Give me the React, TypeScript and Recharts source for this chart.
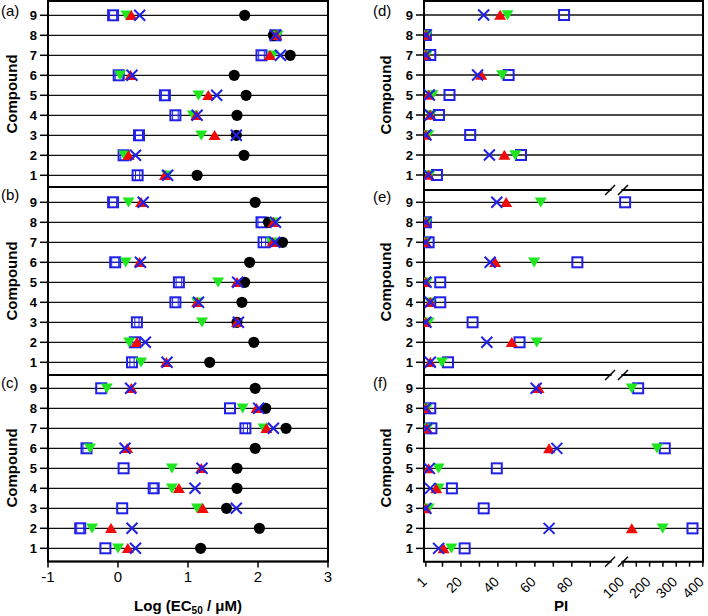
import React from "react";
import {
  ScatterChart,
  Scatter,
  XAxis,
  YAxis,
  CartesianGrid,
  ReferenceArea,
  ErrorBar,
} from "recharts";

const FONT = "'Liberation Sans', Arial, sans-serif";
const RED = "#f00a0a";
const GREEN = "#1fe61f";
const BLUE = "#2020e8";

const compounds = [1, 2, 3, 4, 5, 6, 7, 8, 9];
const ecTicks = [-1, 0, 1, 2, 3];

// Log(EC50/uM), compound 1..9
const aCircle = [1.13, 1.8, 1.69, 1.7, 1.83, 1.66, 2.46, 2.22, 1.81];
const aUp = [0.67, 0.15, 1.38, 1.12, 1.29, 0.18, 2.17, 2.26, 0.19];
const aDown = [0.7, 0.09, 1.19, 1.07, 1.15, 0.03, 2.21, 2.28, 0.12];
const aCross = [0.71, 0.25, 1.69, 1.13, 1.41, 0.2, 2.32, 2.25, 0.31];
const aSquare = [0.28, 0.08, 0.3, 0.82, 0.67, 0.01, 2.05, 2.25, -0.07];
const aSquareErr = [0.03, 0.04, 0.05, 0.04, 0.05, 0.05, 0.04, 0.03, 0.05];

const bCircle = [1.31, 1.94, 1.7, 1.77, 1.81, 1.88, 2.35, 2.15, 1.96];
const bUp = [0.69, 0.27, 1.7, 1.13, 1.7, 0.31, 2.21, 2.22, 0.33];
const bDown = [0.33, 0.16, 1.2, 1.13, 1.43, 0.11, 2.2, 2.24, 0.15];
const bCross = [0.7, 0.39, 1.72, 1.15, 1.71, 0.32, 2.24, 2.25, 0.36];
const bSquare = [0.2, 0.24, 0.27, 0.82, 0.87, -0.04, 2.08, 2.05, -0.07];
const bSquareErr = [0.03, 0.04, 0.03, 0.04, 0.04, 0.05, 0.03, 0.05, 0.05];

const cCircle = [1.18, 2.02, 1.55, 1.7, 1.7, 1.96, 2.4, 2.11, 1.96];
const cUp = [0.14, -0.1, 1.21, 0.87, 1.19, 0.13, 2.12, 1.98, 0.19];
const cDown = [0.0, -0.37, 1.13, 0.77, 0.77, -0.4, 2.08, 1.78, -0.16];
const cCross = [0.25, 0.2, 1.69, 1.1, 1.2, 0.1, 2.22, 2.01, 0.18];
const cSquare = [-0.18, -0.54, 0.06, 0.51, 0.08, -0.45, 1.82, 1.6, -0.24];
const cSquareErr = [0.0, 0.05, 0.0, 0.05, 0.0, 0.05, 0.03, 0.0, 0.0];

// PI, compound 1..9
const dUp = [2.5, 43.5, 1, 3.4, 2.5, 31, 1, 1, 41.2];
const dDown = [3, 49.4, 2.3, 3.6, 4.6, 42.3, 1.5, 1.5, 45.2];
const dCross = [2.5, 35.4, 1, 3.4, 2.9, 29, 1, 1, 32.3];
const dSquare = [7, 52.5, 25, 8.1, 13.8, 45.8, 3.4, 1, 75.8];

const eUp = [3.4, 47.5, 1, 3.4, 1, 38.5, 1, 1, 44.5];
const eDown = [9.7, 61, 2.5, 3.4, 1.5, 59.6, 1, 1.5, 63.2];
const eCross = [3.4, 34, 1, 3.4, 1, 35.8, 1, 1, 39.4];
const eSquare = [13, 51.7, 26.3, 8.8, 8.8, 83, 2.5, 1, 108];

const fUp = [10.6, 133, 1, 6.6, 2.5, 67.7, 1.5, 1, 62];
const fDown = [14.8, 249, 2.5, 7.9, 7.9, 228, 1.8, 1.5, 133];
const fCross = [7.9, 67.7, 1, 3.4, 2.9, 71.9, 1.5, 1, 60.7];
const fSquare = [22, 361, 32.3, 15.1, 39.4, 257, 4, 3.4, 157];

const piTickValues = [1, 10, 20, 30, 40, 50, 60, 70, 80, 90, 100, 150, 200, 250, 300, 350, 400];
const piLabels = [1, 20, 40, 60, 80, 100, 200, 300, 400];

// broken PI axis: 0-95 linear, then 100-400 compressed
const toAxis = (v: number) => (v <= 95 ? v : 107.7 + (v - 100) * 0.1441);
const PI_DOMAIN: [number, number] = [0, 151];

const piLabelMap = new Map(piLabels.map((v) => [toAxis(v).toFixed(3), String(v)]));

const rows = (xs: number[], errs?: number[]) =>
  xs.map((x, i) => ({ x, y: compounds[i], ex: errs ? errs[i] : 0 }));
const piRows = (xs: number[]) => xs.map((v, i) => ({ x: toAxis(v), y: compounds[i], pi: v }));

const Dot = (p: any) => <circle cx={p.cx} cy={p.cy} r={5.6} fill="#000" />;
const Up = (p: any) => (
  <polygon
    points={`${p.cx},${p.cy - 5.2} ${p.cx - 6},${p.cy + 4.8} ${p.cx + 6},${p.cy + 4.8}`}
    fill={RED}
  />
);
const Down = (p: any) => (
  <polygon
    points={`${p.cx},${p.cy + 5.2} ${p.cx - 6},${p.cy - 4.8} ${p.cx + 6},${p.cy - 4.8}`}
    fill={GREEN}
  />
);
const Cross = (p: any) => (
  <path
    d={`M${p.cx - 5.5} ${p.cy - 5.5}L${p.cx + 5.5} ${p.cy + 5.5}M${p.cx - 5.5} ${p.cy + 5.5}L${p.cx + 5.5} ${p.cy - 5.5}`}
    stroke={BLUE}
    strokeWidth={2}
    fill="none"
  />
);
const Box = (p: any) => (
  <rect x={p.cx - 5} y={p.cy - 5} width={10} height={10} fill="none" stroke={BLUE} strokeWidth={2} />
);

const PiTick = (p: any) => {
  const lab = piLabelMap.get(Number(p.payload.value).toFixed(3));
  if (!lab) return null;
  const ax = p.x + 2;
  const ay = p.y + 12;
  return (
    <text
      x={ax}
      y={ay}
      transform={`rotate(-45 ${ax} ${ay})`}
      textAnchor="end"
      fontSize={14}
      fontFamily={FONT}
      fill="#000"
    >
      {lab}
    </text>
  );
};

type Series = { data: any[]; shape: any; err?: boolean };

function Panel(props: {
  left: number;
  top: number;
  width: number;
  height: number;
  yWidth: number;
  xHeight: number;
  mRight: number;
  xDomain: [number, number];
  xTicks: number[];
  xTick: any;
  xTickSize: number;
  yDomain: [number, number];
  series: Series[];
}) {
  const { left, top, width, height, yWidth, xHeight, mRight, xDomain, xTicks, xTick, xTickSize, yDomain, series } =
    props;
  return (
    <div style={{ position: "absolute", left, top, width, height }}>
      <ScatterChart width={width} height={height} margin={{ top: 1, right: mRight, bottom: 0, left: 0 }}>
        <CartesianGrid vertical={false} stroke="#111" strokeWidth={1.3} />
        <XAxis
          type="number"
          dataKey="x"
          domain={xDomain}
          ticks={xTicks}
          interval={0}
          height={xHeight}
          axisLine={false}
          tickLine={{ stroke: "#000", strokeWidth: 1.5 }}
          tickSize={xTickSize}
          tickMargin={4}
          tick={xTick}
          allowDataOverflow
        />
        <YAxis
          type="number"
          dataKey="y"
          domain={yDomain}
          ticks={compounds}
          interval={0}
          width={yWidth}
          axisLine={false}
          tickLine={{ stroke: "#000", strokeWidth: 1.5 }}
          tickSize={8}
          tickMargin={3}
          tick={{ fill: "#000", fontSize: 13, fontWeight: 700, fontFamily: FONT }}
          allowDataOverflow
        />
        <ReferenceArea
          x1={xDomain[0]}
          x2={xDomain[1]}
          y1={yDomain[0]}
          y2={yDomain[1]}
          fill="none"
          stroke="#000"
          strokeWidth={2}
        />
        {series.map((s, i) => (
          <Scatter key={i} data={s.data} shape={s.shape} isAnimationActive={false}>
            {s.err && <ErrorBar dataKey="ex" direction="x" width={5} stroke={BLUE} strokeWidth={1} />}
          </Scatter>
        ))}
      </ScatterChart>
    </div>
  );
}

const ecSeries = (sq: number[], sqErr: number[], circle: number[], down: number[], up: number[], cross: number[]) => [
  { data: rows(sq, sqErr), shape: Box, err: true },
  { data: rows(circle), shape: Dot },
  { data: rows(down), shape: Down },
  { data: rows(up), shape: Up },
  { data: rows(cross), shape: Cross },
];

const piSeries = (sq: number[], down: number[], up: number[], cross: number[]) => [
  { data: piRows(sq), shape: Box },
  { data: piRows(down), shape: Down },
  { data: piRows(up), shape: Up },
  { data: piRows(cross), shape: Cross },
];

const ecTickStyle = { fill: "#000", fontSize: 15, fontFamily: FONT };

const PLOT_L = 424;
const PLOT_W = 279;
const piPx = (d: number) => PLOT_L + (d - PI_DOMAIN[0]) * (PLOT_W / (PI_DOMAIN[1] - PI_DOMAIN[0]));

function BreakMark({ y }: { y: number }) {
  const a = piPx(100.7);
  const b = piPx(toAxis(100));
  return (
    <g>
      <rect x={a + 1.5} y={y - 2.5} width={b - a - 3} height={5} fill="#fff" />
      <line x1={a - 5} y1={y + 5} x2={a + 5} y2={y - 5} stroke="#000" strokeWidth={1.5} />
      <line x1={b - 5} y1={y + 5} x2={b + 5} y2={y - 5} stroke="#000" strokeWidth={1.5} />
    </g>
  );
}

const CompoundLabel = ({ x, y }: { x: number; y: number }) => (
  <text
    x={x}
    y={y}
    transform={`rotate(-90 ${x} ${y})`}
    textAnchor="middle"
    dominantBaseline="central"
    fontSize={15}
    fontWeight={700}
    fontFamily={FONT}
  >
    Compound
  </text>
);

const PanelTag = ({ x, y, t }: { x: number; y: number; t: string }) => (
  <text x={x} y={y} fontSize={15} fontFamily={FONT}>
    {t}
  </text>
);

export default function App() {
  return (
    <div style={{ position: "absolute", left: 0, top: 0, width: 708, height: 616, background: "#fff" }}>
      <Panel left={0} top={0} width={340} height={196} yWidth={48} xHeight={9} mRight={12}
        xDomain={[-1, 3]} xTicks={ecTicks} xTick={false} xTickSize={6} yDomain={[0.415, 9.715]}
        series={ecSeries(aSquare, aSquareErr, aCircle, aDown, aUp, aCross)} />
      <Panel left={0} top={186} width={340} height={198} yWidth={48} xHeight={9} mRight={12}
        xDomain={[-1, 3]} xTicks={ecTicks} xTick={false} xTickSize={6} yDomain={[0.365, 9.765]}
        series={ecSeries(bSquare, bSquareErr, bCircle, bDown, bUp, bCross)} />
      <Panel left={0} top={374} width={340} height={242} yWidth={48} xHeight={54.5} mRight={12}
        xDomain={[-1, 3]} xTicks={ecTicks} xTick={ecTickStyle} xTickSize={6} yDomain={[0.34, 9.665]}
        series={ecSeries(cSquare, cSquareErr, cCircle, cDown, cUp, cCross)} />

      <Panel left={360} top={0} width={346} height={197} yWidth={64} xHeight={7} mRight={3}
        xDomain={PI_DOMAIN} xTicks={piTickValues.map(toAxis)} xTick={false} xTickSize={5} yDomain={[0.25, 9.7]}
        series={piSeries(dSquare, dDown, dUp, dCross)} />
      <Panel left={360} top={189} width={346} height={193} yWidth={64} xHeight={7} mRight={3}
        xDomain={PI_DOMAIN} xTicks={piTickValues.map(toAxis)} xTick={false} xTickSize={5} yDomain={[0.365, 9.615]}
        series={piSeries(eSquare, eDown, eUp, eCross)} />
      <Panel left={360} top={374} width={346} height={242} yWidth={64} xHeight={54.3} mRight={3}
        xDomain={PI_DOMAIN} xTicks={piTickValues.map(toAxis)} xTick={<PiTick />} xTickSize={5} yDomain={[0.335, 9.665]}
        series={piSeries(fSquare, fDown, fUp, fCross)} />

      <svg width={708} height={616} style={{ position: "absolute", left: 0, top: 0, pointerEvents: "none" }}>
        <PanelTag x={1} y={16} t="(a)" />
        <PanelTag x={1} y={200} t="(b)" />
        <PanelTag x={1} y={388} t="(c)" />
        <PanelTag x={373} y={16} t="(d)" />
        <PanelTag x={373} y={202} t="(e)" />
        <PanelTag x={373} y={388} t="(f)" />
        <CompoundLabel x={11} y={94} />
        <CompoundLabel x={11} y={281} />
        <CompoundLabel x={11} y={468} />
        <CompoundLabel x={385} y={95} />
        <CompoundLabel x={385} y={282} />
        <CompoundLabel x={385} y={468} />
        <BreakMark y={190} />
        <BreakMark y={375} />
        <BreakMark y={561.7} />
        <text x={188} y={611} textAnchor="middle" fontSize={15} fontWeight={700} fontFamily={FONT}>
          Log (EC<tspan fontSize={10} dy={3}>50</tspan>
          <tspan dy={-3}> / μM)</tspan>
        </text>
        <text x={561} y={611} textAnchor="middle" fontSize={15} fontWeight={700} fontFamily={FONT}>
          PI
        </text>
      </svg>
    </div>
  );
}
